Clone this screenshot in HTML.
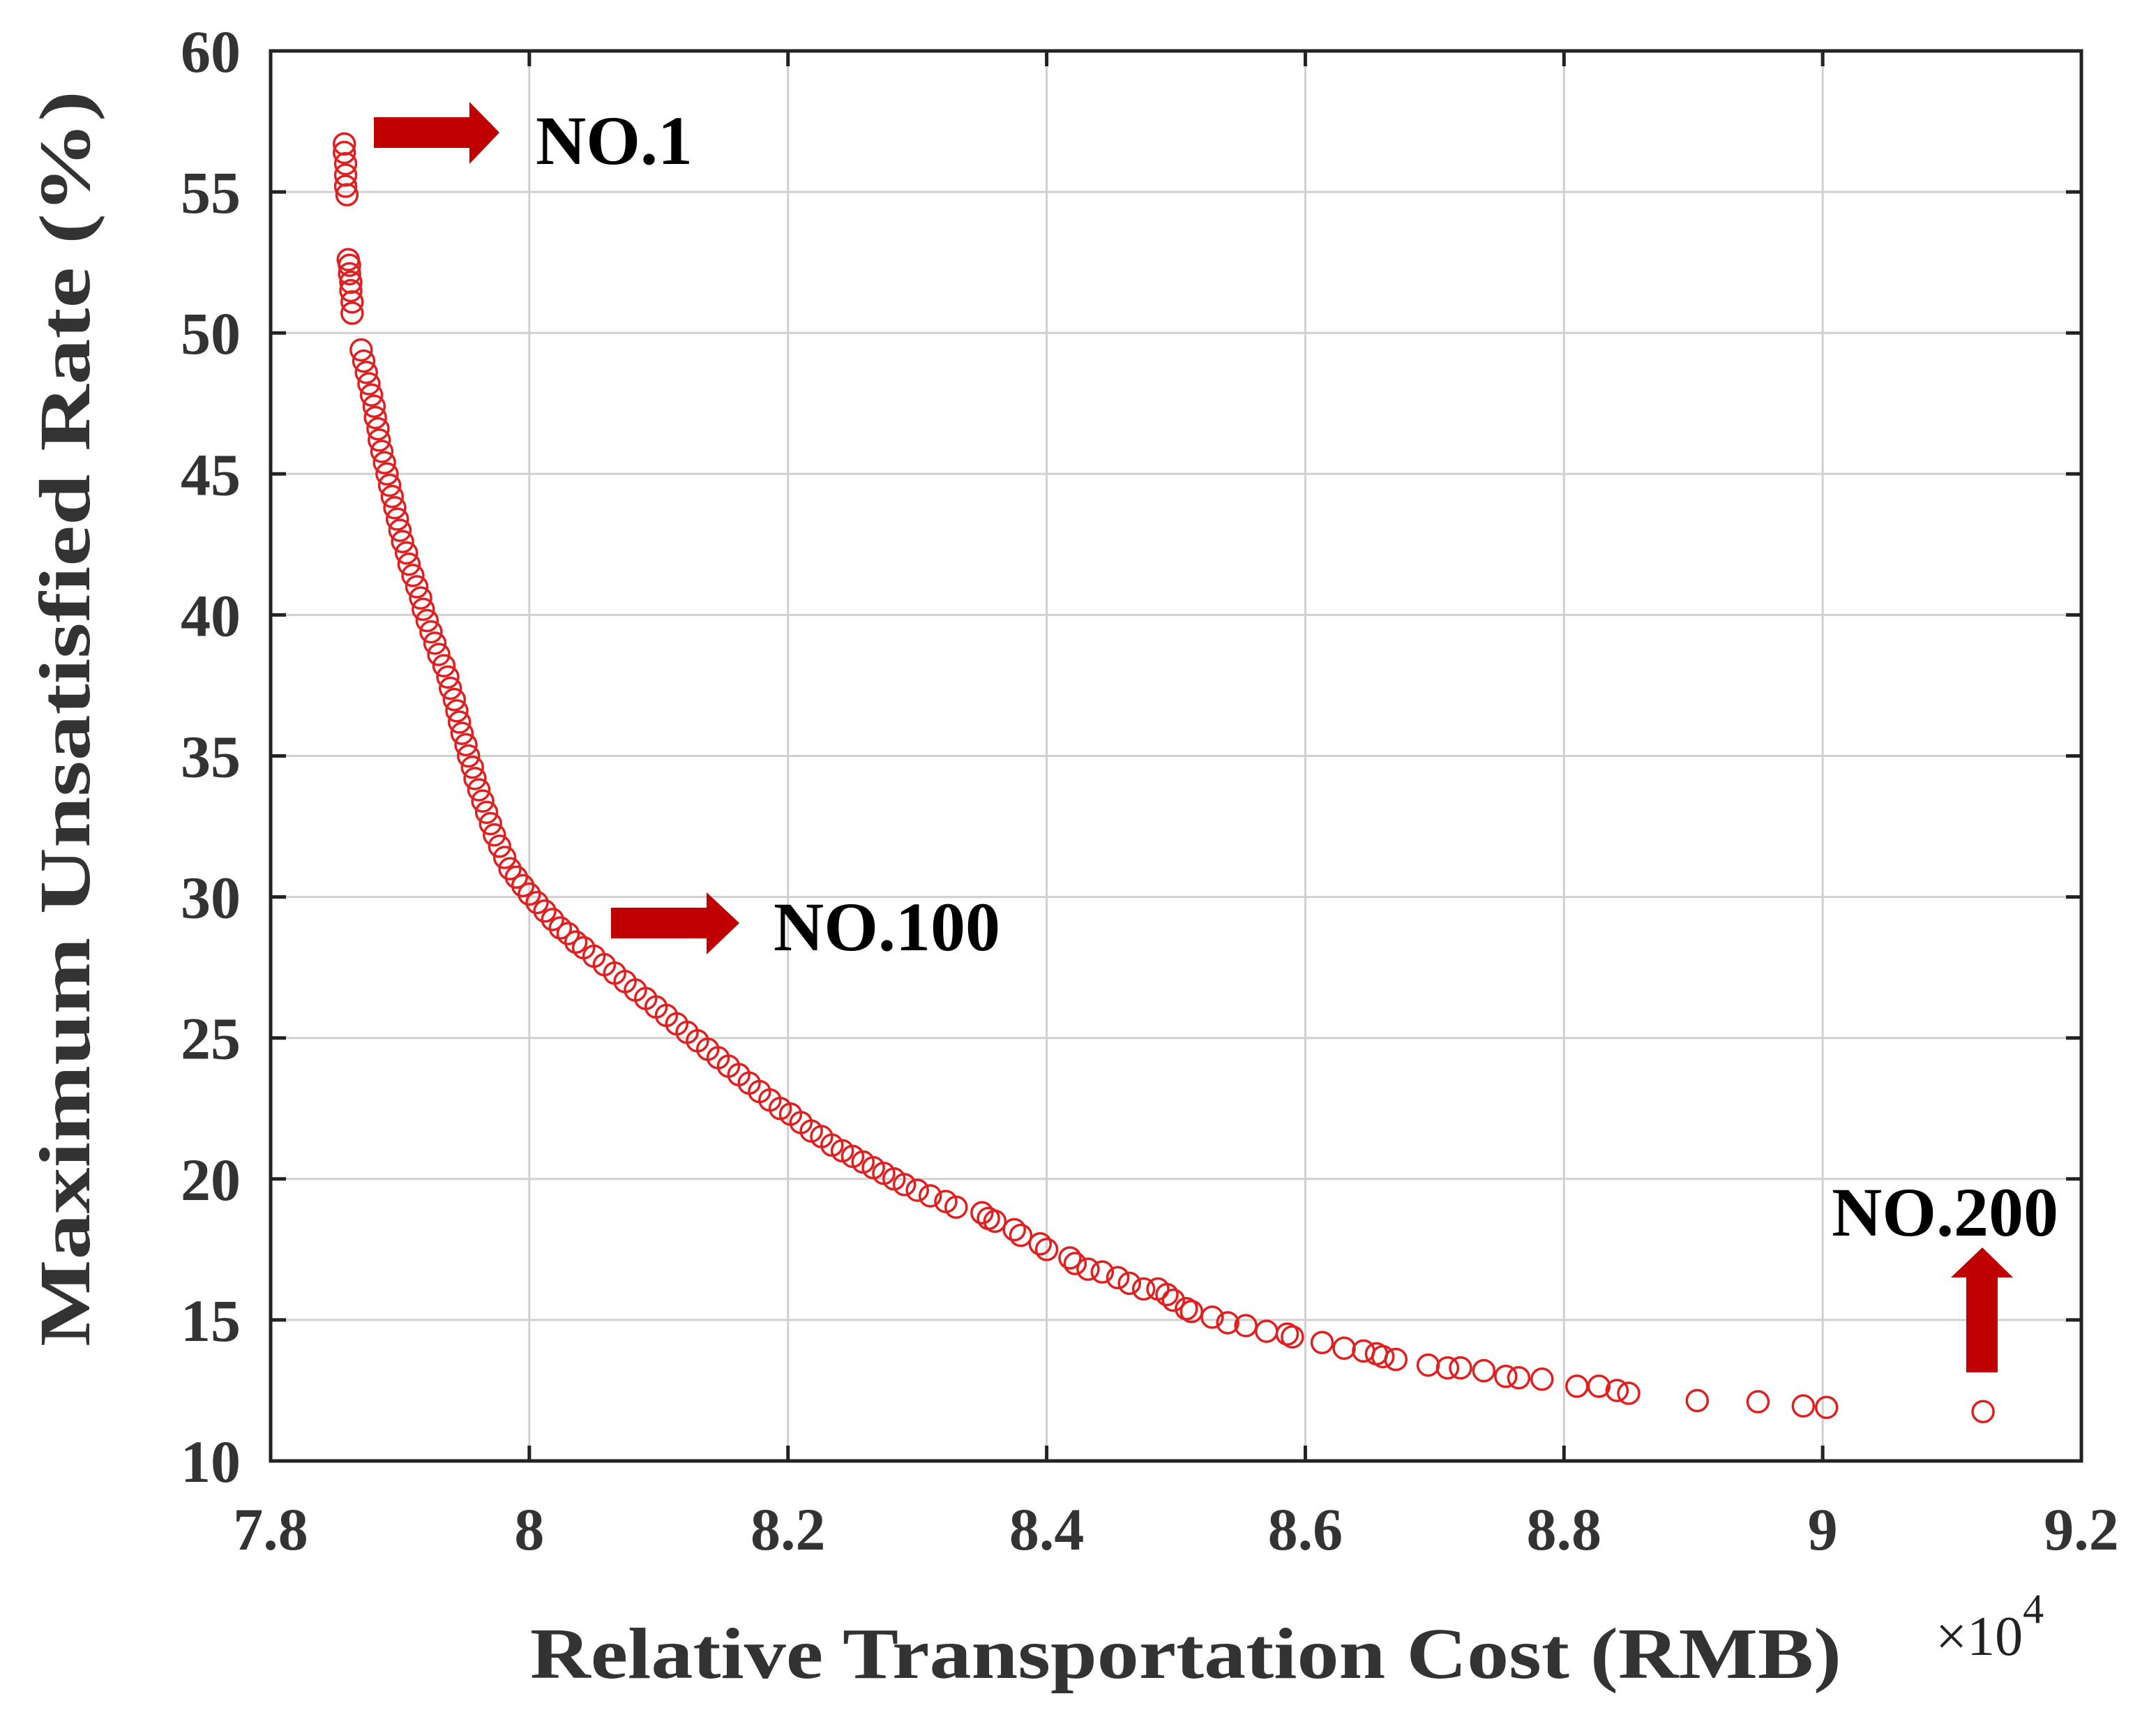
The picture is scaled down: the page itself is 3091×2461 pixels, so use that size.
<!DOCTYPE html>
<html><head><meta charset="utf-8"><style>html,body{margin:0;padding:0;background:#fff}svg{display:block}</style></head>
<body>
<svg id="chart" width="3091" height="2461" viewBox="0 0 3091 2461" xmlns="http://www.w3.org/2000/svg" font-family="'Liberation Serif', serif">
<g id="grid"></g>
<g id="points"></g>
<g id="axes"></g>
<text x="1700" y="2405" text-anchor="middle" font-size="104" font-weight="bold" fill="#333" textLength="1880" lengthAdjust="spacingAndGlyphs">Relative Transportation Cost (RMB)</text>
<text x="2775" y="2372" font-size="80" fill="#222">×10<tspan dy="-46" font-size="60">4</tspan></text>
<text transform="translate(128,1030) rotate(-90)" text-anchor="middle" font-size="104" font-weight="bold" fill="#333" textLength="1800" lengthAdjust="spacingAndGlyphs">Maximum Unsatisfied Rate (%)</text>
<polygon points="536,168 673,168 673,146 716,190 673,235 673,212 536,212" fill="#c00000"/>
<text x="768" y="235" font-size="100" font-weight="bold">NO.1</text>
<polygon points="876,1301 1013,1301 1013,1279 1060,1323 1013,1368 1013,1345 876,1345" fill="#c00000"/>
<text x="1109" y="1362" font-size="100" font-weight="bold">NO.100</text>
<polygon points="2819,1967 2819,1831 2797,1831 2842,1788 2886,1831 2864,1831 2864,1967" fill="#c00000"/>
<text x="2626" y="1771" font-size="100" font-weight="bold">NO.200</text>
</svg>
<script>
const xTicks = [7.8, 8.0, 8.2, 8.4, 8.6, 8.8, 9.0, 9.2];
const xTickLabels = ["7.8", "8", "8.2", "8.4", "8.6", "8.8", "9", "9.2"];
const yTicks = [10, 15, 20, 25, 30, 35, 40, 45, 50, 55, 60];
const yTickLabels = ["10", "15", "20", "25", "30", "35", "40", "45", "50", "55", "60"];
const costValues = [
7.857,7.857,7.858,7.858,7.858,7.859,
7.860,7.861,7.861,7.862,7.862,7.863,7.863,
7.870,7.872,7.874,7.876,7.878,7.880,7.881,7.883,7.884,7.886,
7.888,7.890,7.892,7.894,7.896,7.898,7.900,7.902,7.905,7.907,
7.910,7.913,7.916,7.918,7.921,7.924,7.927,7.930,7.934,7.937,
7.939,7.942,7.944,7.946,7.948,7.951,7.953,7.956,7.958,7.961,
7.964,7.967,7.970,7.973,7.977,7.981,7.985,7.990,7.995,8.000,
8.006,8.012,8.018,8.024,8.030,8.036,8.042,8.050,8.058,8.066,
8.074,8.082,8.090,8.098,8.106,8.114,8.122,8.130,8.138,8.146,
8.154,8.162,8.170,8.178,8.186,8.194,8.202,8.210,8.218,8.226,
8.234,8.242,8.250,8.258,8.266,8.274,8.282,8.290,8.300,8.310,
8.322,8.330,8.350,8.355,8.360,8.375,8.380,8.395,8.400,8.418,
8.422,8.432,8.443,8.455,8.464,8.475,8.486,8.493,8.498,8.508,
8.512,8.528,8.540,8.554,8.570,8.586,8.590,8.613,8.630,8.645,
8.655,8.660,8.670,8.695,8.710,8.720,8.738,8.755,8.765,8.783,
8.810,8.827,8.841,8.850,8.903,8.950,8.985,9.003,9.124];
const rateValues = [
56.7,56.4,56.0,55.6,55.2,54.9,
52.6,52.4,52.1,51.8,51.5,51.1,50.7,
49.4,49.0,48.6,48.2,47.8,47.4,47.0,46.6,46.2,45.8,
45.4,45.0,44.6,44.2,43.8,43.4,43.0,42.6,42.2,41.8,
41.4,41.0,40.6,40.2,39.8,39.4,39.0,38.6,38.2,37.8,
37.4,37.0,36.6,36.2,35.8,35.4,35.0,34.6,34.2,33.8,
33.4,33.0,32.6,32.2,31.8,31.4,31.0,30.7,30.4,30.1,
29.8,29.5,29.2,28.9,28.7,28.4,28.2,27.9,27.6,27.3,
27.0,26.7,26.4,26.1,25.8,25.5,25.2,24.9,24.6,24.3,
24.0,23.7,23.4,23.1,22.8,22.5,22.3,22.0,21.7,21.5,
21.2,21.0,20.8,20.6,20.4,20.2,20.0,19.8,19.6,19.4,
19.2,19.0,18.8,18.6,18.5,18.2,18.0,17.7,17.5,17.2,
17.0,16.8,16.7,16.5,16.3,16.1,16.1,15.9,15.7,15.4,
15.3,15.1,14.9,14.8,14.6,14.5,14.4,14.2,14.0,13.9,
13.8,13.7,13.6,13.4,13.3,13.3,13.2,13.0,12.95,12.9,
12.65,12.65,12.5,12.4,12.14,12.1,11.95,11.9,11.75];
const X0 = 388, X1 = 2984, Y0 = 2094, Y1 = 73;
function xs(v){ return X0 + (v - 7.8) / (9.2 - 7.8) * (X1 - X0); }
function ys(v){ return Y0 - (v - 10) / (60 - 10) * (Y0 - Y1); }
const NS = "http://www.w3.org/2000/svg";
const grid = document.getElementById('grid');
const axes = document.getElementById('axes');
const pts = document.getElementById('points');
function mk(tag, attrs, parent){ const e = document.createElementNS(NS, tag); for (const k in attrs) e.setAttribute(k, attrs[k]); parent.appendChild(e); return e; }
xTicks.forEach((t, i) => {
  const x = xs(t);
  if (i > 0 && i < xTicks.length - 1) {
    const g = mk('line', {x1:x, y1:Y1, x2:x, y2:Y0, stroke:'#d0d0d0', 'stroke-width':3}, grid);
    
    
  }
  const tk = mk('line', {x1:x, y1:Y0, x2:x, y2:Y0-22, stroke:'#222', 'stroke-width':5}, axes);
  
  
  const tk2 = mk('line', {x1:x, y1:Y1, x2:x, y2:Y1+22, stroke:'#222', 'stroke-width':5}, axes);
  
  
  const lb = mk('text', {x:x, y:2221, 'text-anchor':'middle', 'font-size':86, 'font-weight':'bold', fill:'#333'}, axes);
  lb.textContent = xTickLabels[i];
  
  
});
yTicks.forEach((t, i) => {
  const y = ys(t);
  if (i > 0 && i < yTicks.length - 1) {
    const g = mk('line', {x1:X0, y1:y, x2:X1, y2:y, stroke:'#d0d0d0', 'stroke-width':3}, grid);
    
    
  }
  const tk = mk('line', {x1:X0, y1:y, x2:X0+22, y2:y, stroke:'#222', 'stroke-width':5}, axes);
  
  
  const tk2 = mk('line', {x1:X1, y1:y, x2:X1-22, y2:y, stroke:'#222', 'stroke-width':5}, axes);
  
  
  const lb = mk('text', {x:345, y:y+30, 'text-anchor':'end', 'font-size':86, 'font-weight':'bold', fill:'#333'}, axes);
  lb.textContent = yTickLabels[i];
  
  
});
const box = mk('rect', {x:X0, y:Y1, width:X1-X0, height:Y0-Y1, fill:'none', stroke:'#222', 'stroke-width':5}, axes);


const n = Math.min(costValues.length, rateValues.length);
for (let i = 0; i < n; i++) {
  const c = mk('circle', {cx:xs(costValues[i]), cy:ys(rateValues[i]), r:15, fill:'none', stroke:'#e02020', 'stroke-width':3.5}, pts);
  
  
}
</script>
</body></html>
